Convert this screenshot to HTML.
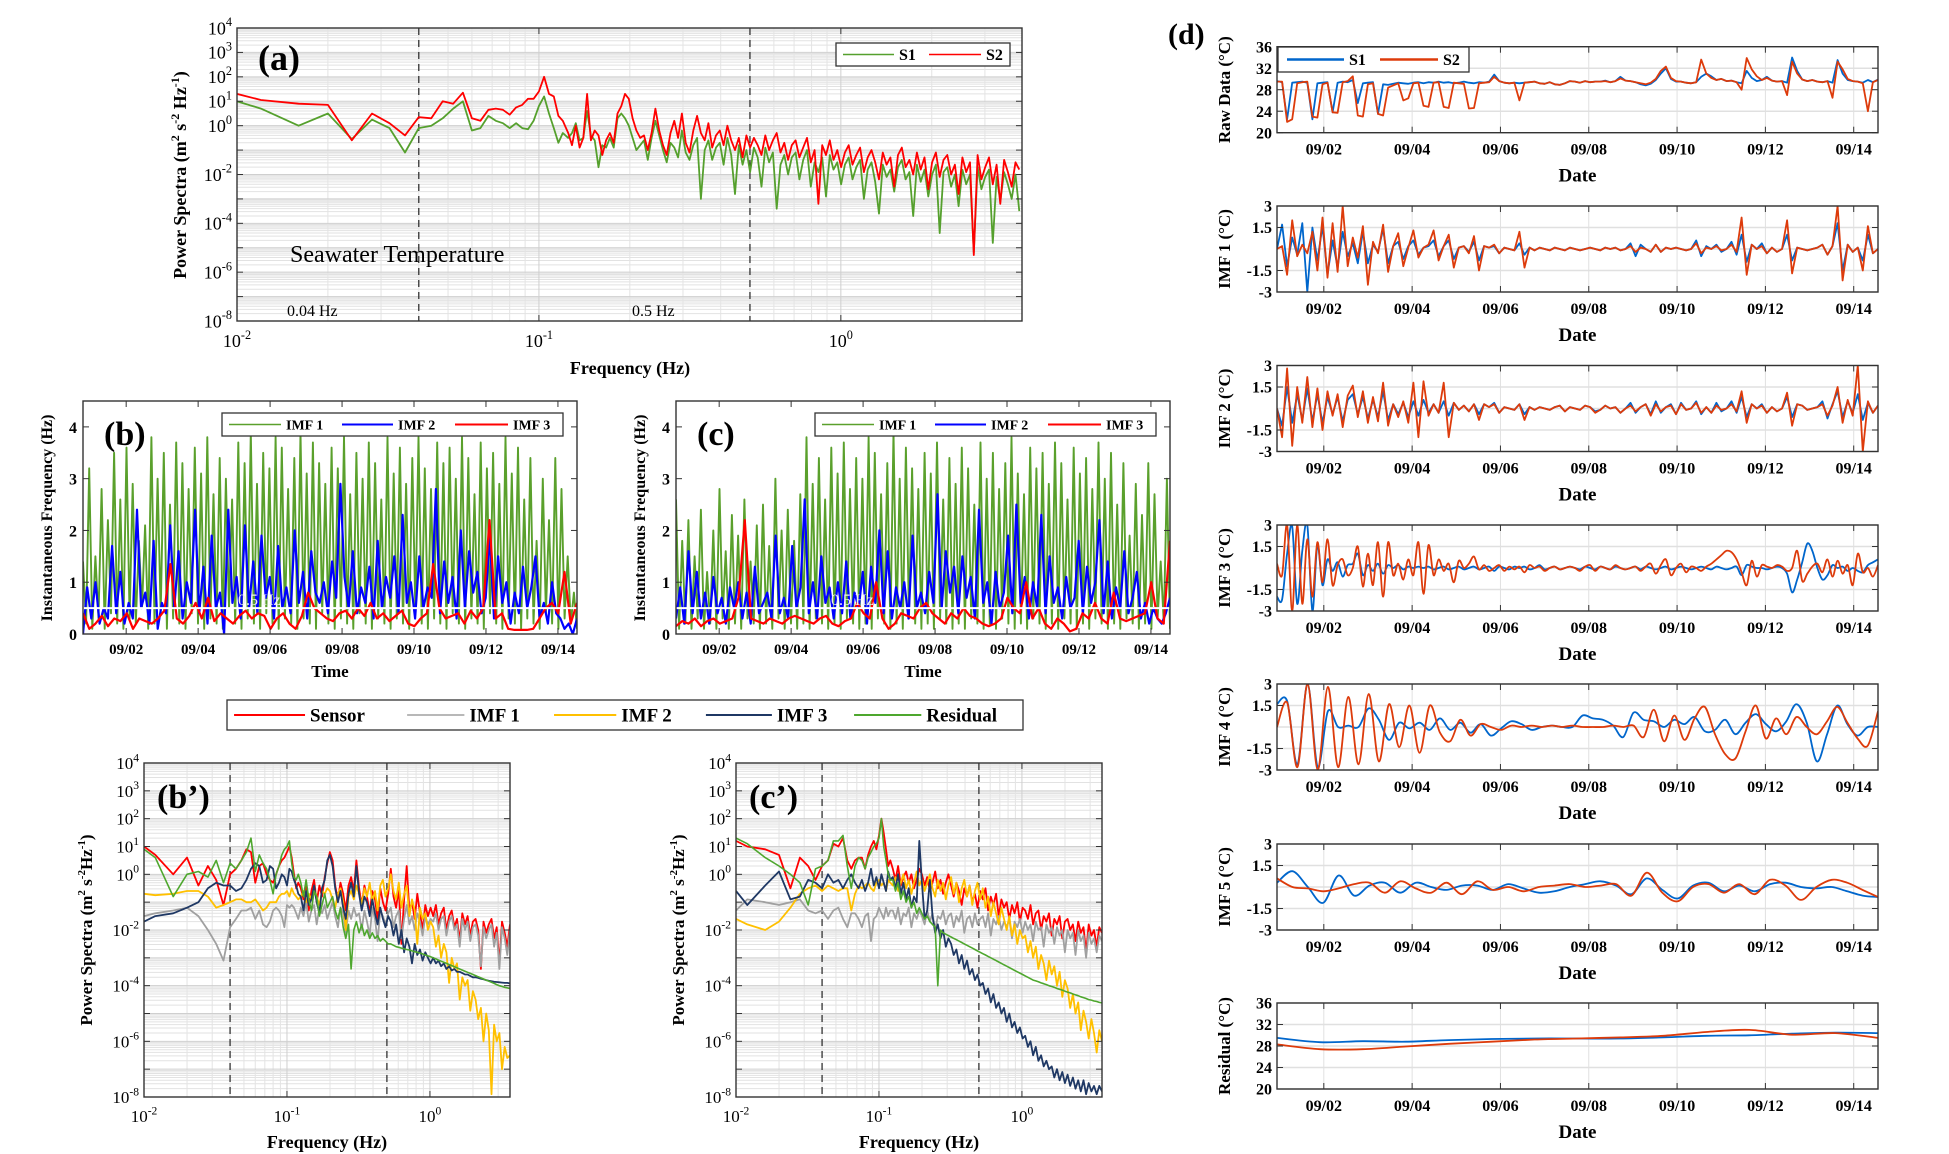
<!DOCTYPE html>
<html><head><meta charset="utf-8">
<style>
html,body{margin:0;padding:0;background:#fff;}
svg{display:block;font-family:"Liberation Serif",serif;}
</style></head>
<body>
<svg id="fig" width="1949" height="1154" viewBox="0 0 1949 1154" xmlns="http://www.w3.org/2000/svg"></svg>
<script>
// ===== Panel (a) data =====
const aLowFreq=[0.01,0.012,0.016,0.02,0.024,0.028,0.032,0.036,0.04,0.044,0.048,0.052,0.056,0.06,0.064,0.068,0.072,0.076,0.08,0.084,0.088,0.092,0.096,0.1,0.104,0.108,0.112,0.116,0.12];
const aS1Low=[1.0,0.7,0.0,0.5,-0.55,0.25,-0.1,-1.1,-0.1,0.0,0.3,0.7,1.0,-0.2,-0.1,0.4,0.2,0.1,-0.1,0.1,-0.1,-0.15,0.2,0.8,1.2,0.5,-0.1,-0.7,-0.3];
const aS2Low=[1.3,1.05,0.9,0.85,-0.6,0.5,0.1,-0.4,0.35,0.3,1.0,0.9,1.35,0.3,0.2,0.65,0.7,0.65,0.45,0.75,0.85,1.1,1.1,1.4,2.0,1.3,1.2,0.4,0.2];
const aS1Dense=[-0.5,-0.3,0.1,-0.6,-0.5,0.6,-0.4,-0.6,-1.7,-0.8,-0.9,-0.5,-0.9,0.3,0.5,0.3,0.0,-0.5,-1.0,-0.8,
-0.6,-1.4,-0.5,0.2,-0.4,-1.0,-1.5,-0.7,-0.9,-1.3,-0.2,-1.1,-1.4,-0.8,-0.5,-3.0,-1.0,-0.6,-1.4,-0.9,
-0.7,-1.6,-0.5,-1.2,-2.8,-0.8,-1.6,-1.0,-1.9,-0.9,-1.3,-2.5,-0.9,-1.5,-1.1,-3.4,-1.6,-1.2,-2.0,-1.3,
-1.1,-2.2,-1.4,-1.0,-2.5,-1.5,-1.9,-1.3,-2.9,-1.2,-1.8,-1.5,-2.4,-1.6,-1.3,-2.2,-1.7,-1.4,-3.0,-1.8,
-1.5,-2.3,-3.6,-1.6,-2.1,-1.8,-2.7,-1.7,-1.4,-2.2,-1.9,-3.7,-1.6,-2.3,-1.8,-2.9,-2.0,-1.6,-4.4,-1.9,
-1.7,-2.5,-2.0,-3.3,-1.8,-2.4,-2.0,-5.2,-1.7,-2.6,-2.1,-1.8,-4.8,-2.1,-3.1,-1.9,-2.4,-3.0,-2.0,-3.5];
const aS2Dense=[-0.3,-0.8,0.0,-0.9,-0.5,1.3,-0.6,-0.2,-0.4,-1.2,-0.6,-0.3,-0.7,0.5,0.8,1.3,1.1,0.3,-0.2,-0.5,
-0.4,-1.0,-0.3,0.7,-0.2,-0.8,-1.2,-0.3,0.2,-0.5,0.5,-0.7,-1.1,-0.2,0.4,-0.3,-0.6,0.1,-0.9,-0.4,
-0.2,-0.8,0.0,-0.6,-1.0,-0.5,-1.3,-0.4,-0.9,-0.5,-0.8,-1.2,-0.4,-1.0,-0.6,-0.3,-1.1,-0.7,-1.4,-0.8,
-0.6,-1.3,-0.9,-0.5,-1.5,-1.0,-3.2,-0.8,-1.2,-0.6,-1.4,-1.0,-1.7,-1.1,-0.8,-1.6,-1.2,-0.9,-1.9,-1.3,
-1.0,-1.5,-2.2,-1.1,-1.6,-1.3,-2.5,-1.2,-0.9,-1.7,-1.4,-2.0,-1.1,-1.8,-1.3,-2.6,-1.5,-1.1,-2.1,-1.4,
-1.2,-2.0,-1.6,-2.8,-1.3,-1.9,-1.5,-5.3,-1.2,-2.2,-1.7,-1.3,-2.4,-1.6,-3.2,-1.4,-1.9,-2.5,-1.5,-1.8];

// ===== Panels (b),(c) instantaneous frequency =====
const bIMF1=[1.4,0.2,3.2,0.1,1.5,0.3,2.8,0.1,2.2,0.4,3.5,0.2,2.6,0.1,3.6,0.3,2.9,0.2,1.8,0.5,
2.1,0.1,3.8,0.2,3.0,0.4,3.5,0.1,2.5,0.3,3.7,0.2,3.3,0.1,2.8,0.4,3.6,0.2,3.1,0.1,
3.8,0.3,2.7,0.2,3.4,0.1,3.0,0.5,2.6,0.2,3.7,0.1,3.3,0.3,3.9,0.2,2.9,0.1,3.5,0.4,
3.2,0.2,3.8,0.1,3.6,0.3,2.8,0.2,3.4,0.1,3.9,0.3,3.1,0.2,3.7,0.1,3.3,0.4,2.9,0.2,
3.6,0.1,3.2,0.3,3.8,0.2,2.7,0.1,3.5,0.4,3.0,0.2,3.7,0.1,3.3,0.3,2.6,0.2,3.8,0.1,
3.1,0.3,3.6,0.2,2.9,0.1,3.4,0.4,3.8,0.2,3.2,0.1,2.8,0.3,3.7,0.2,3.3,0.1,3.6,0.4,
3.0,0.2,3.8,0.1,3.4,0.3,2.7,0.2,3.7,0.1,3.2,0.4,3.5,0.2,2.9,0.1,3.8,0.3,3.1,0.2,
3.6,0.1,2.6,0.3,3.4,0.2,1.8,0.1,3.0,0.4,2.2,0.2,3.4,0.1,2.8,0.3,1.5,0.2,0.8,0.1];
const bIMF2=[0.0,0.9,0.3,1.0,0.2,0.5,0.3,1.7,0.4,1.2,0.2,0.6,0.3,2.4,0.5,0.8,0.2,1.8,0.1,0.6,
0.4,2.1,0.5,1.6,0.3,1.0,0.6,2.4,0.4,1.3,0.2,1.9,0.5,0.8,0.0,2.4,0.6,1.1,0.3,2.1,
0.5,1.4,0.4,1.9,0.7,1.1,0.3,1.7,0.5,0.9,0.4,2.0,0.6,1.2,0.3,1.6,0.8,0.6,1.0,0.4,
1.4,0.7,2.9,1.1,0.5,1.6,0.4,0.9,0.6,1.3,0.3,1.8,0.5,1.1,0.7,1.5,0.4,2.3,0.6,1.0,
0.3,1.5,0.5,0.9,0.7,2.8,0.4,1.4,0.6,1.1,0.3,2.0,0.5,1.6,0.8,1.2,0.4,0.7,1.9,0.3,
1.5,0.6,1.0,0.2,0.8,0.4,1.3,0.5,0.9,1.5,0.3,0.6,0.2,1.0,0.4,0.3,0.1,0.2,0.0,0.3];
const bIMF3=[0.4,0.1,0.2,0.35,0.15,0.3,0.25,0.4,0.1,0.3,0.25,0.2,0.3,0.45,1.35,0.3,0.2,0.35,0.6,0.3,
0.7,0.25,0.4,0.3,0.2,0.35,0.45,0.3,0.4,0.35,0.1,0.3,0.4,0.2,0.1,0.35,0.8,0.5,0.4,0.3,
0.25,0.4,0.45,0.3,0.5,0.35,0.6,0.3,0.4,0.25,0.35,0.45,0.2,0.15,0.3,0.4,1.35,0.5,0.3,0.35,
0.4,0.2,0.45,0.3,0.5,2.2,0.3,0.4,0.1,0.08,0.08,0.08,0.1,0.3,0.5,0.6,0.4,1.2,0.2,0.6];
const cIMF1=[2.6,0.1,1.8,0.2,2.2,0.1,1.5,0.3,2.4,0.1,1.2,0.2,2.0,0.1,2.8,0.3,1.6,0.1,2.3,0.2,
1.9,0.1,2.6,0.3,1.4,0.2,2.1,0.1,2.5,0.2,1.7,0.1,3.0,0.3,2.0,0.1,2.4,0.2,1.8,0.1,
2.7,0.2,3.8,0.1,2.9,0.3,3.4,0.2,2.6,0.1,3.6,0.2,3.1,0.1,3.7,0.3,2.8,0.2,3.4,0.1,
3.0,0.2,3.8,0.1,3.5,0.3,2.7,0.2,3.3,0.1,3.9,0.2,3.0,0.1,3.6,0.3,3.2,0.2,2.8,0.1,
3.5,0.2,3.1,0.1,3.7,0.3,2.6,0.2,3.4,0.1,2.9,0.2,3.6,0.1,3.2,0.3,2.5,0.2,3.7,0.1,
3.0,0.2,3.5,0.1,2.8,0.3,3.3,0.2,3.8,0.1,3.1,0.2,2.7,0.1,3.6,0.3,3.2,0.2,3.5,0.1,
2.9,0.2,3.7,0.1,3.3,0.3,2.6,0.2,3.6,0.1,3.1,0.2,3.4,0.1,2.8,0.3,3.7,0.2,3.0,0.1,
3.5,0.2,2.5,0.1,3.3,0.3,1.9,0.2,2.9,0.1,2.3,0.2,3.3,0.1,2.7,0.3,1.4,0.2,3.0,0.1];
const cIMF2=[0.3,0.9,0.2,1.6,0.4,1.2,0.3,0.8,0.2,1.1,0.4,0.7,0.2,0.9,0.5,1.0,0.3,0.8,0.2,1.3,
0.4,0.6,0.8,0.3,1.9,0.4,0.7,0.3,1.7,0.5,0.9,2.6,0.4,1.0,0.3,1.5,0.6,0.9,0.3,1.0,
0.4,1.4,0.3,0.8,0.5,1.2,0.2,1.3,0.6,2.0,0.4,1.6,0.3,0.9,0.5,1.0,0.3,1.9,0.5,0.8,
0.4,1.2,0.6,2.7,0.5,1.6,0.8,1.3,0.4,1.5,0.7,1.1,0.3,2.4,0.6,1.0,0.2,1.2,0.5,0.8,
1.9,0.4,2.5,0.6,1.1,0.3,1.0,0.5,2.3,0.4,1.5,0.6,0.9,0.3,1.1,0.5,0.7,1.8,0.4,1.3,
0.6,1.0,2.2,0.4,1.4,0.3,0.9,0.5,1.6,0.4,0.7,1.2,0.3,0.6,0.2,0.5,0.3,0.2,0.4,0.7];
const cIMF3=[0.15,0.25,0.2,0.3,0.15,0.25,0.3,0.2,0.25,0.3,0.7,2.2,0.3,0.25,0.2,0.3,0.25,0.2,0.3,0.35,
0.3,0.25,0.2,0.3,0.35,0.2,0.15,0.25,0.3,0.6,0.4,0.3,1.0,0.3,0.1,0.2,0.4,0.35,0.3,0.5,
0.6,0.4,0.3,0.2,0.4,0.3,0.5,0.35,0.3,0.2,0.15,0.2,0.3,0.7,0.5,0.4,1.0,0.3,0.5,0.2,
0.1,0.3,0.2,0.05,0.1,0.4,0.3,0.6,0.3,0.2,0.8,0.3,0.25,0.3,0.35,0.4,1.0,0.3,0.2,1.8];

// ===== Panels (b'),(c') spectra =====
const bpSensorLow=[1.0,0.7,0.0,0.6,-0.4,0.3,-0.2,-1.1,0.0,0.2,0.5,0.9,0.8,-0.3,0.3,0.4,0.0,-0.2,-0.3,0.0,0.3,0.5,0.6,0.8,1.0,0.6,0.0,-0.5,-0.3];
const bpIMF1Low=[-1.5,-1.4,-1.3,-1.2,-1.5,-2.0,-2.5,-3.1,-1.9,-1.6,-1.3,-1.3,-1.2,-1.6,-1.3,-1.8,-1.9,-1.7,-1.3,-1.2,-1.3,-1.5,-1.9,-1.1,-1.2,-1.1,-1.2,-1.4,-1.6];
const bpIMF2Low=[-0.7,-0.75,-0.7,-0.6,-0.6,-0.8,-1.2,-1.1,-1.0,-0.9,-0.9,-1.0,-1.0,-0.9,-1.1,-1.3,-1.2,-1.0,-1.0,-1.0,-0.8,-0.7,-0.7,-0.6,-0.8,-0.5,-0.7,-0.8,-0.9];
const bpIMF3Low=[-1.7,-1.5,-1.4,-1.2,-1.0,-0.5,-0.3,-0.4,-0.4,-0.6,-0.5,-0.2,0.2,0.4,0.3,-0.3,-0.2,0.3,0.2,-0.5,-0.3,0.0,-0.1,-0.4,0.2,0.1,-0.2,-0.4,-0.7];
const bpResLow=[0.9,0.6,-0.8,0.0,0.1,-0.1,0.5,-0.3,0.4,0.2,0.5,0.8,1.3,0.1,0.7,0.4,0.2,-0.2,-0.7,0.0,0.3,0.7,0.9,1.0,1.2,0.4,-0.1,-0.2,0.0];
const bpSensorDense=[-0.5,-0.9,-0.3,-1.3,-0.6,-0.2,-1.0,-0.4,-0.8,-0.1,0.4,
0.8,0.5,-0.4,-0.9,-0.3,-0.7,-1.3,-0.4,-0.1,-0.6,0.5,
-0.5,-1.1,-0.4,-0.8,-1.4,-0.6,-0.9,-1.6,-0.5,-1.0,-1.3,-0.7,
0.2,-0.8,-1.2,-0.5,-2.5,-0.9,0.3,-1.3,-1.0,-1.6,-0.7,-1.4,-2.0,-1.1,-1.5,-1.2,
-1.5,-1.1,-1.8,-1.4,-1.2,-2.0,-1.5,-1.3,-1.9,-1.6,-2.4,-1.4,-1.8,-1.5,-2.2,-1.7,
-1.6,-2.0,-3.4,-1.7,-2.1,-1.8,-1.6,-2.3,-1.9,-3.2,-1.7,-2.1,-2.6,-1.8];
const bpIMF1Dense=[-1.2,-1.5,-1.0,-1.7,-1.3,-1.1,-1.8,-1.2,-1.4,-1.1,-1.6,
-1.3,-1.0,-1.5,-1.9,-1.2,-1.4,-2.1,-1.3,-1.6,-1.2,-1.5,
-1.4,-2.0,-1.3,-1.7,-2.2,-1.2,-1.6,-2.4,-1.3,-1.5,-1.8,-1.4,
-1.2,-1.9,-1.5,-1.3,-2.3,-1.6,-1.1,-1.8,-1.5,-2.0,-1.4,-1.7,-2.2,-1.5,-1.8,-1.6,
-1.7,-1.4,-2.0,-1.6,-1.5,-2.2,-1.7,-1.5,-2.0,-1.8,-2.6,-1.6,-2.0,-1.7,-2.4,-1.9,
-1.8,-2.2,-3.3,-1.9,-2.3,-2.0,-1.8,-2.6,-2.1,-3.4,-1.9,-2.3,-2.9,-2.0];
const bpIMF2Dense=[-0.8,-0.6,-1.0,-0.7,-0.9,-0.5,-0.8,-1.1,-0.6,-0.7,-0.5,
-0.6,-0.9,-1.2,-0.7,-0.5,-1.0,-2.0,-0.8,-0.6,-0.9,-0.4,
-0.7,-1.1,-0.5,-0.8,-0.3,-1.0,-0.6,-1.3,-0.4,-0.2,-0.8,-0.5,
0.0,-0.6,-0.9,-0.3,-1.2,-0.7,-0.4,-1.5,-0.9,-1.3,-2.5,-1.2,-1.6,-1.4,-2.0,-1.7,
-1.9,-2.6,-2.2,-3.0,-2.5,-2.8,-3.9,-3.0,-3.4,-3.2,-4.5,-3.7,-4.0,-3.8,-4.9,-4.2,
-4.5,-5.2,-4.8,-6.0,-5.0,-5.6,-7.9,-5.4,-6.0,-5.7,-7.0,-6.2,-6.6,-6.5];
const bpIMF3Dense=[-0.8,-1.3,-0.6,-1.1,-0.9,-0.4,-1.0,-1.4,-0.5,-0.2,0.5,
0.7,0.3,-0.5,-1.0,-0.6,-1.2,-1.6,-0.7,-0.3,-0.8,0.3,
-0.7,-1.3,-0.8,-1.0,-1.5,-0.9,-1.4,-1.8,-1.2,-1.6,-1.9,-1.5,
-1.7,-2.2,-1.8,-2.5,-2.0,-2.8,-2.3,-2.6,-3.2,-2.5,-2.9,-2.7,-3.1,-2.8,-3.0,-3.2,
-3.0,-3.2,-3.1,-3.3,-3.2,-3.4,-3.3,-3.45,-3.4,-3.5,-3.5,-3.55,-3.6,-3.6,-3.65,-3.7,
-3.7,-3.72,-3.75,-3.77,-3.8,-3.82,-3.84,-3.86,-3.87,-3.88,-3.89,-3.9,-3.9,-3.92];
const bpResDense=[-0.3,-0.8,-0.2,-0.9,-1.3,-0.6,-0.8,-1.5,-1.1,-0.7,-1.2,
-1.0,-0.8,-1.3,-1.6,-1.2,-1.9,-2.3,-1.8,-3.4,-2.0,-1.7,
-2.1,-1.8,-2.2,-2.0,-2.3,-2.1,-2.3,-2.2,-2.4,-2.3,-2.4,-2.5,
-2.5,-2.55,-2.6,-2.62,-2.65,-2.68,-2.7,-2.72,-2.75,-2.78,-2.8,-2.83,-2.86,-2.9,-2.93,-2.96,
-3.0,-3.04,-3.08,-3.12,-3.16,-3.2,-3.24,-3.28,-3.32,-3.36,-3.4,-3.44,-3.48,-3.52,-3.56,-3.6,
-3.64,-3.68,-3.72,-3.76,-3.8,-3.84,-3.88,-3.92,-3.96,-4.0,-4.03,-4.06,-4.08,-4.1];
const cpSensorLow=[1.2,1.0,0.9,0.7,-0.5,0.6,0.3,-0.2,0.3,0.5,1.1,1.0,1.3,0.5,0.2,0.5,0.6,0.6,0.2,0.7,1.0,1.2,0.9,1.4,2.0,1.5,0.9,0.3,0.5];
const cpIMF1Low=[-1.3,-0.9,-1.0,-1.1,-1.0,-0.9,-1.3,-1.4,-1.3,-1.6,-1.3,-1.2,-1.6,-1.9,-1.4,-1.4,-1.6,-1.9,-1.5,-1.4,-2.4,-1.6,-1.5,-1.2,-1.4,-1.6,-1.2,-1.5,-1.3];
const cpIMF2Low=[-1.6,-1.8,-2.0,-1.7,-1.2,-0.7,-0.5,-0.4,-0.6,-0.4,-0.5,-0.6,-0.5,-0.5,-1.3,-0.7,-0.4,-0.5,-0.4,-0.3,-0.5,-0.6,-0.3,-0.2,-0.4,-0.3,-0.6,-0.2,-0.3];
const cpIMF3Low=[-0.6,-1.1,-0.4,0.1,-0.9,-0.8,-0.2,-0.3,-0.5,0.0,-0.3,-0.2,-0.5,-0.2,0.0,-0.3,-0.5,-0.2,-0.6,-0.3,0.2,-0.4,-0.1,-0.5,0.0,-0.3,-0.6,0.1,-0.2];
const cpResLow=[1.3,1.1,0.6,0.3,0.0,-0.3,-1.1,0.2,0.3,0.5,1.2,1.2,1.4,0.3,-0.5,0.3,0.6,0.5,0.2,0.6,0.8,1.0,1.1,1.3,2.0,1.0,0.5,0.0,-0.2];
const cpSensorDense=[0.2,-0.2,0.3,-0.4,-0.1,0.1,-0.3,0.0,-0.5,-0.2,0.2,
0.0,-0.4,-0.1,-0.6,-0.3,0.1,-0.5,-0.2,-0.7,-0.3,0.0,
-0.4,-0.8,-0.3,-0.6,-1.1,-0.5,-0.8,-0.4,-1.0,-0.7,-1.2,-0.6,
-0.9,-0.5,-1.3,-0.8,-1.1,-0.7,-1.5,-0.9,-1.2,-1.0,-1.6,-1.1,-1.4,-1.0,-1.7,-1.2,
-1.3,-1.6,-1.1,-1.8,-1.4,-1.3,-2.0,-1.5,-1.7,-1.4,-2.2,-1.6,-1.8,-1.5,-2.3,-1.7,
-1.6,-2.0,-1.8,-2.4,-1.7,-2.1,-1.9,-2.8,-1.8,-2.2,-2.0,-2.6,-1.9,-2.1];
const cpIMF1Dense=[-1.3,-1.6,-1.2,-1.8,-1.4,-1.5,-1.2,-1.9,-1.4,-1.6,-1.3,
-1.5,-1.8,-1.3,-1.7,-1.4,-2.0,-1.5,-1.6,-1.3,-1.8,-1.5,
-1.4,-1.9,-1.5,-1.7,-1.3,-2.1,-1.6,-1.5,-1.9,-1.4,-1.8,-1.6,
-1.5,-1.9,-1.4,-2.2,-1.6,-1.8,-1.5,-2.0,-1.7,-1.9,-1.6,-2.3,-1.7,-1.9,-1.6,-2.1,
-1.7,-2.0,-1.8,-2.4,-1.7,-2.0,-1.9,-2.6,-1.8,-2.1,-1.9,-2.5,-1.9,-2.2,-2.0,-2.8,
-2.0,-2.3,-2.1,-2.9,-2.0,-2.4,-2.2,-3.0,-2.1,-2.5,-2.3,-2.8,-2.2,-2.4];
const cpIMF2Dense=[-0.4,-0.1,-0.6,-0.3,0.0,-0.5,-0.2,-0.7,-0.3,0.1,-0.4,
-0.2,-0.6,-0.3,0.0,-0.5,-0.8,-0.2,-0.6,-0.3,-0.9,-0.4,
-0.1,-0.7,-0.3,-1.0,-0.5,-0.2,-0.8,-0.4,-1.1,-0.6,-0.3,-0.9,
-0.5,-1.2,-0.8,-1.5,-1.0,-1.4,-1.8,-1.2,-1.6,-2.0,-1.5,-2.2,-1.8,-2.5,-2.0,-2.3,
-2.2,-2.8,-2.4,-3.0,-2.6,-3.4,-2.9,-3.2,-3.8,-3.1,-3.6,-3.3,-4.0,-3.5,-4.4,-3.8,
-4.1,-4.8,-4.3,-5.0,-4.6,-5.6,-4.9,-5.3,-5.9,-5.2,-5.7,-6.4,-5.6,-6.0];
const cpIMF3Dense=[-0.1,-0.5,0.0,-0.7,-0.3,-0.9,-0.5,-1.2,-0.8,-1.0,1.2,
-0.3,-1.6,-1.3,-0.2,-1.5,-2.1,-1.8,-2.3,-2.0,-2.6,-2.3,
-2.5,-2.9,-2.7,-3.2,-2.9,-3.4,-3.1,-3.6,-3.4,-3.8,-3.6,-4.0,
-3.9,-4.3,-4.1,-4.6,-4.3,-4.8,-4.6,-5.0,-4.8,-5.3,-5.0,-5.5,-5.3,-5.7,-5.5,-5.9,
-5.8,-6.2,-6.0,-6.5,-6.2,-6.7,-6.5,-6.9,-6.7,-7.0,-6.9,-7.3,-7.0,-7.4,-7.1,-7.5,
-7.2,-7.6,-7.3,-7.7,-7.4,-7.8,-7.4,-7.9,-7.5,-7.8,-7.6,-7.9,-7.6,-7.8];
const cpResDense=[-0.2,-0.6,-0.3,-0.9,-0.6,-1.0,-0.8,-1.2,-1.0,-1.4,-1.2,
-1.4,-1.6,-1.5,-1.7,-1.8,-1.9,-4.0,-2.0,-2.1,-2.15,-2.2,
-2.25,-2.3,-2.35,-2.4,-2.45,-2.5,-2.55,-2.6,-2.65,-2.7,-2.75,-2.8,
-2.85,-2.9,-2.95,-3.0,-3.05,-3.1,-3.15,-3.2,-3.25,-3.3,-3.35,-3.4,-3.45,-3.5,-3.55,-3.6,
-3.65,-3.7,-3.75,-3.8,-3.83,-3.86,-3.9,-3.93,-3.96,-4.0,-4.03,-4.06,-4.1,-4.13,-4.16,-4.2,
-4.23,-4.26,-4.3,-4.33,-4.36,-4.4,-4.43,-4.46,-4.5,-4.52,-4.55,-4.57,-4.6,-4.62];

// ===== Panel (d) time series =====
const dRawS1=[29.6,29.4,22.5,29.3,29.4,29.5,29.3,22.5,29.2,29.3,29.4,23.8,29.3,29.5,29.4,29.8,
25.5,29.2,29.3,29.4,23.5,29.0,28.9,29.1,29.3,29.2,29.1,29.3,29.4,29.2,29.4,29.3,
29.5,29.3,29.4,29.2,29.3,29.5,29.3,29.2,29.4,29.3,29.5,30.8,29.6,29.3,29.2,29.3,
29.2,29.3,29.4,29.5,29.2,29.1,29.4,29.0,28.9,29.2,29.6,29.5,29.3,29.6,29.4,29.5,
29.5,29.7,29.4,29.6,30.4,29.7,29.6,29.4,29.0,28.8,29.1,29.8,31.0,32.0,30.0,29.5,
29.5,29.3,29.2,29.4,30.4,31.0,30.5,29.8,30.0,29.6,29.7,29.4,29.2,31.5,30.2,29.6,
29.8,30.4,29.7,29.5,29.6,29.3,34.0,31.5,29.9,29.6,29.8,29.5,29.4,29.6,29.3,33.5,
31.0,29.8,29.6,29.5,29.3,29.8,29.4,29.9];
const dRawS2=[29.5,29.5,22.0,22.5,29.2,29.4,29.5,23.0,22.8,29.0,29.3,23.8,23.7,29.4,29.6,30.5,
23.2,23.0,29.0,29.2,23.5,23.2,28.4,28.8,29.2,26.0,26.4,29.2,29.3,25.0,24.8,29.3,
29.4,24.8,24.6,29.3,29.2,29.1,24.5,24.6,29.2,29.3,29.4,30.4,29.6,29.3,29.2,29.3,
26.0,29.3,29.4,29.5,29.2,29.1,29.4,29.0,28.9,29.2,29.6,29.5,29.3,29.6,29.4,29.5,
29.5,29.6,29.4,29.6,30.1,29.7,29.6,29.4,29.2,29.0,29.3,30.0,31.5,32.3,30.2,29.6,
29.5,29.3,29.2,29.4,33.6,31.0,30.2,29.8,30.0,29.6,29.7,29.4,28.0,33.9,31.8,30.5,
29.8,30.2,29.7,29.5,29.6,27.0,33.2,31.0,29.9,29.6,29.8,29.5,29.4,29.6,26.5,33.2,
31.8,30.0,29.6,29.5,29.2,24.0,29.4,29.8];
const dIMF1S1=[0,1.7,-1.2,0.8,-0.4,1.8,-3.0,1.5,-0.8,1.6,-1.8,0.6,-1.3,1.2,-0.5,0.4,
-1.0,1.2,-1.0,0.3,-0.2,1.4,-1.0,0.2,0.5,-0.7,0.2,0.6,-0.4,0.1,0.2,0.6,
-0.5,0.2,0.6,-0.7,0.1,0.2,-0.2,0.5,-0.8,0.2,0.1,0.2,-0.3,0.1,0.0,-0.1,
0.4,-0.4,0.1,-0.1,0.1,0.0,-0.1,0.1,0.0,-0.1,0.1,0.0,-0.1,0.0,0.1,0.0,
-0.1,0.1,0.0,0.1,-0.1,0.0,0.4,-0.5,0.3,0.0,-0.2,0.3,-0.2,0.1,0.0,0.1,
0.0,-0.1,0.0,0.6,-0.5,0.2,0.0,0.3,-0.2,0.0,0.5,-0.4,1.0,-0.9,0.3,0.0,
0.4,-0.3,0.1,-0.2,0.0,1.0,-0.8,0.1,0.0,-0.1,0.0,0.1,0.3,-0.4,0.2,1.8,
-1.5,0.3,-0.2,0.1,-0.8,1.0,-0.3,0.0];
const dIMF1S2=[0,0.2,-1.8,2.0,-0.5,0.3,-0.3,1.2,-1.5,2.2,-2.0,1.8,-1.6,3.0,-1.2,0.8,
-0.6,1.6,-2.5,0.5,-0.3,1.7,-1.6,0.2,1.1,-1.2,0.1,1.3,-0.6,0.1,0.3,1.3,
-0.8,0.2,1.0,-1.3,0.1,0.2,-0.3,0.9,-1.5,0.2,0.1,0.3,-0.3,0.1,0.0,-0.1,
1.2,-1.3,0.1,-0.1,0.1,0.0,-0.1,0.1,0.0,-0.1,0.1,0.0,-0.1,0.0,0.1,0.0,
-0.1,0.1,0.0,0.1,-0.1,0.0,0.2,-0.2,0.1,0.0,-0.2,0.3,-0.2,0.1,0.0,0.1,
0.0,-0.1,0.0,0.4,-0.3,0.1,0.0,0.2,-0.1,0.0,0.3,-0.2,2.2,-1.8,0.3,0.0,
0.2,-0.3,0.1,-0.2,0.0,2.0,-1.7,0.1,0.0,-0.1,0.0,0.1,0.3,-0.4,0.2,3.0,
-2.2,0.3,-0.2,0.1,-1.5,1.6,-0.3,0.0];
const dIMF2S1=[0,-1.2,1.5,-1.0,1.0,-0.8,1.4,-0.9,1.0,-1.0,0.8,-0.4,0.8,-0.9,0.6,1.0,
-0.4,0.8,-0.7,0.6,-0.6,1.2,-0.8,0.3,-0.4,0.4,-0.6,0.5,-0.5,0.6,-0.3,0.3,
-0.3,0.5,-0.5,0.4,-0.1,0.2,-0.2,0.3,-0.4,0.3,0.1,0.4,-0.3,0.1,0.0,-0.1,
0.3,-0.4,0.1,-0.1,0.1,0.0,-0.1,0.1,0.2,-0.2,0.1,0.0,-0.1,0.2,0.1,-0.2,
-0.1,0.2,0.0,0.1,-0.3,0.0,0.4,-0.3,0.1,0.3,-0.4,0.5,-0.3,0.1,0.3,-0.4,
0.4,-0.1,0.0,0.5,-0.4,0.1,-0.3,0.4,-0.2,0.0,0.5,-0.3,0.8,-0.6,0.3,0.0,
0.3,-0.3,0.1,-0.2,0.0,0.8,-0.6,0.3,0.2,-0.1,0.0,0.1,0.5,-0.7,0.3,1.2,
-0.6,0.5,-0.3,1.0,-0.8,0.4,-0.3,0.2];
const dIMF2S2=[0,-2.0,2.8,-2.6,1.5,-1.0,2.2,-1.3,1.4,-1.5,1.2,-0.5,1.0,-1.3,0.9,1.6,
-0.6,1.2,-1.0,0.8,-0.9,1.8,-1.2,0.3,-0.6,0.5,-1.0,1.8,-2.0,1.9,-0.5,0.3,
-0.3,1.8,-2.0,0.4,-0.1,0.2,-0.2,0.3,-0.8,0.3,0.1,0.3,-0.3,0.1,0.0,-0.1,
0.3,-0.8,0.1,-0.1,0.1,0.0,-0.1,0.1,0.2,-0.2,0.1,0.0,-0.1,0.2,0.1,-0.3,
-0.1,0.2,0.0,0.1,-0.3,0.0,0.2,-0.2,0.1,0.3,-0.5,0.3,-0.2,0.1,0.2,-0.4,
0.3,-0.1,0.0,0.4,-0.3,0.1,-0.3,0.2,-0.1,0.0,0.3,-0.2,1.2,-1.0,0.3,0.0,
0.2,-0.3,0.1,-0.2,0.0,1.1,-1.2,0.3,0.2,-0.1,0.0,0.1,0.3,-0.5,0.2,1.5,
-1.0,0.6,-0.5,3.0,-3.0,0.5,-0.3,0.2];
const dIMF3S1=[-2.0,-2.2,1.0,2.9,-2.5,1.2,3.0,-3.0,1.6,-1.2,0.6,-0.2,0.4,-0.6,0.2,0.3,
1.0,-0.5,0.2,-0.2,0.3,-0.4,0.2,0.0,0.2,-0.1,0.1,0.0,0.1,0.0,0.1,-0.1,
0.0,0.1,-0.1,0.0,0.1,-0.1,0.0,0.1,-0.1,0.0,0.1,-0.2,0.1,0.0,-0.1,0.1,
0.0,0.1,-0.1,0.0,0.2,-0.1,0.0,0.1,-0.1,0.0,0.1,0.0,-0.1,0.1,0.0,-0.1,
0.1,0.0,-0.1,0.1,0.0,-0.1,0.0,0.1,-0.1,0.1,0.0,-0.1,0.0,0.1,-0.1,0.0,
0.1,0.0,-0.1,0.0,0.1,0.0,-0.1,0.1,0.0,-0.1,0.0,0.1,-0.5,0.2,0.1,0.0,
0.0,-0.1,0.0,0.1,0.0,-0.4,-1.7,-0.8,0.4,1.7,1.2,0.0,-0.8,-0.5,0.2,0.0,
0.1,-0.2,0.0,-0.2,-0.3,0.2,0.4,0.6];
const dIMF3S2=[0.3,-0.5,3.0,-3.0,3.0,-2.5,2.0,-2.0,1.8,-1.0,2.0,-1.2,0.2,0.6,-0.5,0.0,
1.5,-1.3,1.0,-1.2,1.8,-2.0,1.8,-0.5,0.3,-0.8,0.6,-0.5,1.8,-1.8,1.6,-0.5,
0.6,-0.2,0.3,-1.0,0.5,0.0,0.3,0.8,-0.1,0.2,-0.2,0.0,0.2,-0.2,0.1,-0.1,
0.1,-0.3,0.2,0.0,0.1,-0.2,0.0,0.1,-0.1,0.0,0.1,0.0,-0.2,0.1,0.2,-0.2,
0.1,0.0,-0.1,0.2,0.0,-0.1,0.0,0.1,-0.2,0.1,0.3,-0.4,0.2,0.6,-0.5,0.0,
0.3,-0.3,0.1,0.0,-0.2,0.1,0.3,0.6,0.9,1.2,1.1,0.6,-0.3,-1.2,0.5,-0.6,
0.2,0.1,0.0,0.2,0.1,-0.2,0.0,1.2,-0.9,-0.4,0.1,0.3,-0.3,0.6,-0.6,0.5,
-0.4,0.2,-1.2,1.0,-0.3,0.0,-0.6,0.2];
const dIMF4S1=[1.6,1.8,-2.6,3.0,-2.8,1.1,0.0,0.1,0.0,1.3,0.5,-0.9,0.3,-0.1,0.3,-0.2,
0.6,-0.2,0.3,-0.4,0.2,-0.6,-0.1,0.4,0.2,-0.2,0.0,0.1,0.0,0.0,0.8,0.6,
0.5,0.1,-0.7,1.0,0.5,0.4,0.0,0.5,0.2,0.7,-0.3,-0.2,0.5,-0.5,0.3,0.9,
0.2,-0.3,0.4,1.6,0.3,-2.4,-0.5,1.5,0.2,-0.6,0.0,0.0];
const dIMF4S2=[0,1.7,-2.8,3.0,-3.0,2.8,-2.8,2.1,-2.6,2.3,-2.4,1.6,-1.4,1.5,-1.8,1.5,
-0.4,-1.0,0.5,-0.6,0.2,0.0,-0.2,0.1,0.0,0.1,0.0,0.1,0.0,0.1,0.0,0.0,
0.0,0.1,0.0,0.1,-0.7,1.2,-1.0,0.8,-0.9,0.6,1.4,-0.5,-1.9,-2.2,-0.3,1.5,
-0.8,0.6,-0.5,0.7,0.0,-0.5,0.4,1.4,0.3,-0.8,-1.3,1.1];
const dIMF5S1=[0.3,1.1,0.0,-1.1,0.8,-0.6,0.1,0.3,-0.4,0.3,0.0,-0.2,0.1,0.1,-0.2,0.2,-0.1,-0.4,-0.3,0.0,0.2,0.4,0.1,-0.5,0.6,-0.2,-0.8,0.1,0.3,-0.3,0.1,-0.3,0.2,0.3,0.0,-0.1,0.0,-0.3,-0.6,-0.7];
const dIMF5S2=[0.6,0.0,-0.1,-0.3,-0.1,0.2,0.3,-0.4,0.4,-0.1,-0.4,0.3,-0.5,0.4,-0.2,0.0,-0.3,0.0,0.1,0.2,0.0,0.1,0.2,-0.6,1.0,-0.4,-1.0,0.0,0.2,-0.4,0.2,-0.5,0.5,0.1,-0.9,0.0,0.5,0.3,-0.2,-0.7];
const dResS1=[29.5,28.7,28.9,28.8,29.1,29.3,29.4,29.4,29.4,29.6,29.9,30.0,30.3,30.5,30.4];
const dResS2=[28.3,27.4,27.4,27.9,28.4,28.8,29.2,29.4,29.6,29.9,30.6,31.0,30.1,30.4,29.5];
const dateTicks=[2,4,6,8,10,12,14];
const dateLabels=['09/02','09/04','09/06','09/08','09/10','09/12','09/14'];
const imfTicks=[3,1.5,-1.5,-3];
const imfTickLabels=['3','1.5','-1.5','-3'];
const tempTicks=[36,32,28,24,20];
const freqTicks=[0,1,2,3,4];

// ===== helpers =====
const NS='http://www.w3.org/2000/svg';
const svg=document.getElementById('fig');
function el(tag,attrs,parent){const e=document.createElementNS(NS,tag);for(const k in attrs)e.setAttribute(k,attrs[k]);(parent||svg).appendChild(e);return e;}
function group(name){const g=el('g',{});


return g;}
function txt(parent,x,y,s,size,anchor,name,rot,weight){
 const t=el('text',{x:x,y:y,'font-size':size,'text-anchor':anchor||'middle','font-weight':weight||'bold',fill:'#000'},parent);
 if(rot)t.setAttribute('transform','rotate(-90 '+x+' '+y+')');
 t.textContent=s;
 
 
 return t;}
function pow10(parent,x,y,exp,size,anchor,name){
 const t=el('text',{x:x,y:y,'font-size':size,'text-anchor':anchor,'font-weight':'normal',fill:'#000'},parent);
 
 
 const a=el('tspan',{},t);a.textContent='10';
 const b=el('tspan',{dy:-size*0.45,'font-size':size*0.68},t);b.textContent=String(exp);
 return t;}
let clipN=0;
function clipFor(x0,y0,x1,y1){const id='c'+(clipN++);const cp=el('clipPath',{id:id});el('rect',{x:x0,y:y0,width:x1-x0,height:y1-y0},cp);return 'url(#'+id+')';}
function poly(parent,pts,color,w,name,clip){
 const p=el('polyline',{points:pts.map(q=>q[0].toFixed(1)+','+q[1].toFixed(1)).join(' '),fill:'none',stroke:color,'stroke-width':w,'stroke-linejoin':'round'},parent);
 if(clip)p.setAttribute('clip-path',clip);
 
 
 return p;}
function smooth(parent,pts,color,w,name,clip){
 let d='M'+pts[0][0].toFixed(1)+','+pts[0][1].toFixed(1);
 for(let i=0;i<pts.length-1;i++){const p0=pts[Math.max(0,i-1)],p1=pts[i],p2=pts[i+1],p3=pts[Math.min(pts.length-1,i+2)];
  const c1=[p1[0]+(p2[0]-p0[0])/6,p1[1]+(p2[1]-p0[1])/6],c2=[p2[0]-(p3[0]-p1[0])/6,p2[1]-(p3[1]-p1[1])/6];
  d+=' C'+c1[0].toFixed(1)+','+c1[1].toFixed(1)+' '+c2[0].toFixed(1)+','+c2[1].toFixed(1)+' '+p2[0].toFixed(1)+','+p2[1].toFixed(1);}
 const p=el('path',{d:d,fill:'none',stroke:color,'stroke-width':w},parent);
 if(clip)p.setAttribute('clip-path',clip);
 
 
 return p;}
function legendBox(parent,x0,y0,x1,y1,entries,size,name){
 const g=el('g',{},parent);
 
 
 el('rect',{x:x0,y:y0,width:x1-x0,height:y1-y0,fill:'#fff',stroke:'#333','stroke-width':1.3},g);
 const ym=(y0+y1)/2;
 entries.forEach(e=>{const ln=el('line',{x1:e[0],y1:ym,x2:e[1],y2:ym,stroke:e[3],'stroke-width':e[4]||2},g);
  
  
  txt(g,e[1]+5,ym+size*0.35,e[2],size,'start','legend-label');});
 return g;}

function logAxes(g,P){
 const sx=f=>P.x0+(Math.log10(f)-P.lx0)/(P.lx1-P.lx0)*(P.x1-P.x0);
 const sy=v=>P.y1-(v-P.ly0)/(P.ly1-P.ly0)*(P.y1-P.y0);
 el('rect',{x:P.x0,y:P.y0,width:P.x1-P.x0,height:P.y1-P.y0,fill:'#fff'},g);
 const grid=el('g',{},g);
 for(let d=P.ly0;d<P.ly1;d++){for(let k=2;k<=9;k++){const y=sy(d+Math.log10(k));el('line',{x1:P.x0,x2:P.x1,y1:y,y2:y,stroke:'#e2e2e2','stroke-width':1},grid);}}
 for(let d=Math.floor(P.lx0);d<P.lx1;d++){for(let k=1;k<=9;k++){const lv=d+Math.log10(k);if(lv<=P.lx0||lv>=P.lx1)continue;const x=sx(Math.pow(10,lv));el('line',{x1:x,x2:x,y1:P.y0,y2:P.y1,stroke:k===1?'#cfcfcf':'#e4e4e4','stroke-width':1},grid);}}
 for(let d=P.ly0+1;d<P.ly1;d++){const y=sy(d);el('line',{x1:P.x0,x2:P.x1,y1:y,y2:y,stroke:'#cfcfcf','stroke-width':1},grid);}
 [0.04,0.5].forEach(f=>{const x=sx(f);const l=el('line',{x1:x,x2:x,y1:P.y0,y2:P.y1,stroke:'#333','stroke-width':1.3,'stroke-dasharray':'7,5'},g);
  
  });
 return {sx,sy};}
function logFrame(g,P,ax,labelExps){
 el('rect',{x:P.x0,y:P.y0,width:P.x1-P.x0,height:P.y1-P.y0,fill:'none',stroke:'#333','stroke-width':1.4},g);
 for(let d=P.ly0;d<=P.ly1;d++){const y=ax.sy(d);el('line',{x1:P.x0,x2:P.x0+6,y1:y,y2:y,stroke:'#333'},g);el('line',{x1:P.x1,x2:P.x1-6,y1:y,y2:y,stroke:'#333'},g);}
 labelExps.forEach(d=>pow10(g,P.x0-5,ax.sy(d)+P.fs*0.35,d,P.fs,'end','y-tick-label'));
 for(let d=Math.ceil(P.lx0);d<=Math.floor(P.lx1);d++){const x=ax.sx(Math.pow(10,d));el('line',{x1:x,x2:x,y1:P.y1,y2:P.y1-6,stroke:'#333'},g);el('line',{x1:x,x2:x,y1:P.y0,y2:P.y0+6,stroke:'#333'},g);
  pow10(g,x,P.y1+P.fs+8,d,P.fs,'middle','x-tick-label');}}
function spectrum(g,ax,lowF,lowV,dense,f0,f1,color,w,name,clip){
 const pts=lowF.map((f,i)=>[ax.sx(f),ax.sy(lowV[i])]);
 const l0=Math.log10(f0),l1=Math.log10(f1);
 dense.forEach((v,i)=>{const f=Math.pow(10,l0+i*(l1-l0)/(dense.length-1));pts.push([ax.sx(f),ax.sy(v)]);});
 return poly(g,pts,color,w,name,clip);}

function timeAxes(g,P){
 const sx=t=>P.x0+(t-P.t0)/(P.t1-P.t0)*(P.x1-P.x0);
 const sy=v=>P.y1-(v-P.v0)/(P.v1-P.v0)*(P.y1-P.y0);
 el('rect',{x:P.x0,y:P.y0,width:P.x1-P.x0,height:P.y1-P.y0,fill:'#fff'},g);
 if(P.grid){dateTicks.forEach(t=>{const x=sx(t);el('line',{x1:x,x2:x,y1:P.y0,y2:P.y1,stroke:'#e0e0e0'},g);});
  P.gridY.forEach(v=>{const y=sy(v);el('line',{x1:P.x0,x2:P.x1,y1:y,y2:y,stroke:'#e0e0e0','stroke-width':1.5},g);});}
 return {sx,sy};}
function timeFrame(g,P,ax,yt,yl,xTitle){
 el('rect',{x:P.x0,y:P.y0,width:P.x1-P.x0,height:P.y1-P.y0,fill:'none',stroke:'#333','stroke-width':1.4},g);
 dateTicks.forEach((t,i)=>{const x=ax.sx(t);el('line',{x1:x,x2:x,y1:P.y1,y2:P.y1-6,stroke:'#333'},g);el('line',{x1:x,x2:x,y1:P.y0,y2:P.y0+6,stroke:'#333'},g);
  txt(g,x,P.y1+P.fs+6,dateLabels[i],P.fs,'middle','x-tick-label');});
 yt.forEach((v,i)=>{const y=ax.sy(v);el('line',{x1:P.x0,x2:P.x0+6,y1:y,y2:y,stroke:'#333'},g);el('line',{x1:P.x1,x2:P.x1-6,y1:y,y2:y,stroke:'#333'},g);
  txt(g,P.x0-5,y+P.fs*0.35,yl[i],P.fs,'end','y-tick-label');});
 txt(g,(P.x0+P.x1)/2,P.y1+P.fs+33,xTitle,P.fs+3,'middle','x-axis-title');}
function series(g,ax,vals,t0,t1,color,w,name,clip,sm){
 const pts=vals.map((v,i)=>[ax.sx(t0+i*(t1-t0)/(vals.length-1)),ax.sy(v)]);
 return sm?smooth(g,pts,color,w,name,clip):poly(g,pts,color,w,name,clip);}

// ===== Panel (a) =====
(function(){
 const g=group('panel-a-spectrum');
 const P={x0:237,x1:1022,y0:28,y1:321,lx0:-2,lx1:0.6,ly0:-8,ly1:4,fs:18};
 const ax=logAxes(g,P);
 const clip=clipFor(P.x0,P.y0,P.x1,P.y1);
 spectrum(g,ax,aLowFreq,aS1Low,aS1Dense,0.125,3.9,'#55a02d',1.8,'s1-spectrum',clip);
 spectrum(g,ax,aLowFreq,aS2Low,aS2Dense,0.125,3.9,'#ff0000',1.8,'s2-spectrum',clip);
 logFrame(g,P,ax,[4,3,2,1,0,-2,-4,-6,-8]);
 txt(g,290,262,'Seawater Temperature',24,'start','series-annotation',false,'normal');
 txt(g,287,316,'0.04 Hz',16,'start','cutoff-label-low',false,'normal');
 txt(g,632,316,'0.5 Hz',16,'start','cutoff-label-high',false,'normal');
 txt(g,258,70,'(a)',36,'start','panel-label-a');
 legendBox(g,836,43,1010,66,[[843,894,'S1','#55a02d',1.5],[929,981,'S2','#ff0000',1.5]],16,'legend-a');
 const yl=el('text',{x:186,y:175,'font-size':18,'font-weight':'bold','text-anchor':'middle',transform:'rotate(-90 186 175)'},g);
 
 
 yl.innerHTML='Power Spectra (m<tspan dy="-7" font-size="12">2</tspan><tspan dy="7"> s</tspan><tspan dy="-7" font-size="12">-2</tspan><tspan dy="7"> Hz</tspan><tspan dy="-7" font-size="12">-1</tspan><tspan dy="7">)</tspan>';
 txt(g,630,374,'Frequency (Hz)',18,'middle','x-axis-title');
})();

// ===== Panels (b),(c) =====
function ifPanel(offset,d1,d2,d3,label,name){
 const g=group(name);
 const P={x0:83+offset,x1:577+offset,y0:401,y1:634,t0:0.8,t1:14.53,v0:0,v1:4.5,fs:15};
 const ax=timeAxes(g,P);
 const clip=clipFor(P.x0,P.y0,P.x1,P.y1);
 series(g,ax,d1,P.t0,P.t1,'#5aa02c',1.9,'imf1-inst-freq',clip);
 series(g,ax,d2,P.t0,P.t1,'#0000ff',2.2,'imf2-inst-freq',clip);
 series(g,ax,d3,P.t0,P.t1,'#ff0000',2.2,'imf3-inst-freq',clip);
 const y05=ax.sy(0.5);
 const wl=el('line',{x1:P.x0,x2:P.x1,y1:y05,y2:y05,stroke:'#fff','stroke-width':2},g);
 
 
 const wt=txt(g,P.x0+155,y05-3,'0.5 Hz',16,'start','threshold-label',false,'normal');wt.setAttribute('fill','#eee');
 el('rect',{x:P.x0,y:P.y0,width:P.x1-P.x0,height:P.y1-P.y0,fill:'none',stroke:'#333','stroke-width':1.4},g);
 dateTicks.forEach((t,i)=>{const x=ax.sx(t);el('line',{x1:x,x2:x,y1:P.y1,y2:P.y1-6,stroke:'#333'},g);el('line',{x1:x,x2:x,y1:P.y0,y2:P.y0+6,stroke:'#333'},g);
  txt(g,x,P.y1+20,dateLabels[i],15,'middle','x-tick-label');});
 freqTicks.forEach(v=>{const y=ax.sy(v);el('line',{x1:P.x0,x2:P.x0+6,y1:y,y2:y,stroke:'#333'},g);el('line',{x1:P.x1,x2:P.x1-6,y1:y,y2:y,stroke:'#333'},g);
  txt(g,P.x0-6,y+6,String(v),16,'end','y-tick-label');});
 txt(g,(P.x0+P.x1)/2,P.y1+43,'Time',17,'middle','x-axis-title');
 txt(g,52+offset,518,'Instantaneous Frequency (Hz)',16,'middle','y-axis-title',true);
 txt(g,104+offset,445,label,34,'start','panel-label');
 legendBox(g,222+offset,413,563+offset,436,[[229+offset,281+offset,'IMF 1','#5aa02c',1.5],[342+offset,393+offset,'IMF 2','#0000ff',2],[455+offset,508+offset,'IMF 3','#ff0000',2]],14,'legend-inst-freq');
}
ifPanel(0,bIMF1,bIMF2,bIMF3,'(b)','panel-b-inst-freq');
ifPanel(593,cIMF1,cIMF2,cIMF3,'(c)','panel-c-inst-freq');

// ===== shared legend =====
(function(){
 const g=group('shared-legend');
 const s=1.245;
 legendBox(g,227,700,1023,730,[[188*s,245*s,'Sensor','#ff0000',2],[327*s,373*s,'IMF 1','#a0a0a0',1.5],[445*s,495*s,'IMF 2','#ffc000',2],[567*s,620*s,'IMF 3','#1f3864',2],[686*s,740*s,'Residual','#4ea72e',2]],19,'legend-components');
})();

// ===== Panels (b'),(c') =====
function specPanel(offset,L,D,label,name){
 const g=group(name);
 const P={x0:144+offset,x1:510+offset,y0:763,y1:1097,lx0:-2,lx1:0.56,ly0:-8,ly1:4,fs:17};
 const ax=logAxes(g,P);
 const clip=clipFor(P.x0,P.y0,P.x1,P.y1);
 spectrum(g,ax,aLowFreq,L[0],D[0],0.125,3.63,'#ff0000',1.8,'sensor-spectrum',clip);
 spectrum(g,ax,aLowFreq,L[1],D[1],0.125,3.63,'#a0a0a0',1.8,'imf1-spectrum',clip);
 spectrum(g,ax,aLowFreq,L[2],D[2],0.125,3.63,'#ffc000',1.8,'imf2-spectrum',clip);
 spectrum(g,ax,aLowFreq,L[3],D[3],0.125,3.63,'#1f3864',1.8,'imf3-spectrum',clip);
 spectrum(g,ax,aLowFreq,L[4],D[4],0.125,3.63,'#4ea72e',1.6,'residual-spectrum',clip);
 logFrame(g,P,ax,[4,3,2,1,0,-2,-4,-6,-8]);
 txt(g,157+offset,808,label,34,'start','panel-label');
 const x=92+offset,y=930;
 const yl=el('text',{x:x,y:y,'font-size':17,'font-weight':'bold','text-anchor':'middle',transform:'rotate(-90 '+x+' '+y+')'},g);
 
 
 yl.innerHTML='Power Spectra (m<tspan dy="-7" font-size="11">2</tspan><tspan dy="7"> s</tspan><tspan dy="-7" font-size="11">-2</tspan><tspan dy="7">Hz</tspan><tspan dy="-7" font-size="11">-1</tspan><tspan dy="7">)</tspan>';
 txt(g,(P.x0+P.x1)/2,1148,'Frequency (Hz)',18,'middle','x-axis-title');
}
specPanel(0,[bpSensorLow,bpIMF1Low,bpIMF2Low,bpIMF3Low,bpResLow],[bpSensorDense,bpIMF1Dense,bpIMF2Dense,bpIMF3Dense,bpResDense],'(b\u2019)','panel-b-prime-spectrum');
specPanel(592,[cpSensorLow,cpIMF1Low,cpIMF2Low,cpIMF3Low,cpResLow],[cpSensorDense,cpIMF1Dense,cpIMF2Dense,cpIMF3Dense,cpResDense],'(c\u2019)','panel-c-prime-spectrum');

// ===== Panel (d) =====
(function(){
 const tops=[46.7,206,365.5,525,684,844,1003];
 const rows=[
  ['Raw Data (\u00b0C)',dRawS1,dRawS2,20,36,tempTicks,tempTicks.map(String),false,'raw-data'],
  ['IMF 1 (\u00b0C)',dIMF1S1,dIMF1S2,-3,3,imfTicks,imfTickLabels,false,'imf1'],
  ['IMF 2 (\u00b0C)',dIMF2S1,dIMF2S2,-3,3,imfTicks,imfTickLabels,false,'imf2'],
  ['IMF 3 (\u00b0C)',dIMF3S1,dIMF3S2,-3,3,imfTicks,imfTickLabels,true,'imf3'],
  ['IMF 4 (\u00b0C)',dIMF4S1,dIMF4S2,-3,3,imfTicks,imfTickLabels,true,'imf4'],
  ['IMF 5 (\u00b0C)',dIMF5S1,dIMF5S2,-3,3,imfTicks,imfTickLabels,true,'imf5'],
  ['Residual (\u00b0C)',dResS1,dResS2,20,36,tempTicks,tempTicks.map(String),true,'residual']];
 rows.forEach((r,k)=>{
  const g=group('panel-d-'+r[8]);
  const P={x0:1277,x1:1878,y0:tops[k],y1:tops[k]+86,t0:0.94,t1:14.55,v0:r[3],v1:r[4],fs:16,grid:true,gridY:r[5].concat(r[3]<0?[0]:[])};
  const ax=timeAxes(g,P);
  const clip=clipFor(P.x0,P.y0,P.x1,P.y1);
  series(g,ax,r[1],P.t0,P.t1,'#0066cc',1.8,'s1-'+r[8],clip,r[7]);
  series(g,ax,r[2],P.t0,P.t1,'#dd3b0b',1.8,'s2-'+r[8],clip,r[7]);
  timeFrame(g,P,ax,r[5],r[6],'Date');
  txt(g,1230,P.y0+43,r[0],17,'middle','y-axis-title',true);
  if(k===0)legendBox(g,1278,47,1469,72,[[1287,1344,'S1','#0066cc',2.5],[1380,1438,'S2','#dd3b0b',2.5]],16,'legend-d');
 });
 txt(svg,1168,44,'(d)',30,'start','panel-label-d');
})();
</script>
</body></html>
